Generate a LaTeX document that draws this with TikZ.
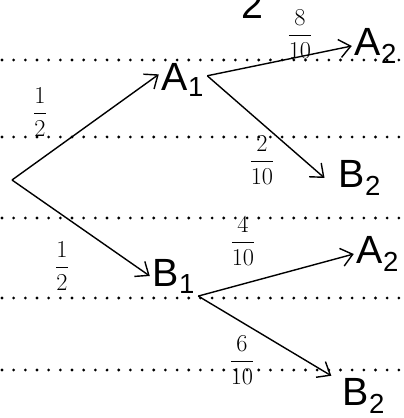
\documentclass[tikz,border=0pt]{standalone}
\usepackage{amsmath}
\usepackage{fontspec}
\setmainfont{Liberation Sans}
\usepackage{tikz}
\usetikzlibrary{arrows.meta}

\begin{document}
\begin{tikzpicture}[
  x=0.025cm, y=-0.025cm,
  state/.style={inner sep=2pt, font=\fontsize{28}{32}\selectfont},
  prob/.style={inner sep=0pt, font=\fontsize{19}{22}\selectfont},
  arrow/.style={-{Straight Barb[length=8pt, width=13pt]}, line width=1pt},
  ruling/.style={line width=2.2pt, line cap=round, dash pattern=on 0pt off 8.3pt},
]
  \useasboundingbox (0,0) rectangle (403,418);
  % ruled paper
  \foreach \y in {60,137,218,298,370}
    \draw[ruling] (2,\y) -- (403,\y);

  \node (top) [state] at (252,5) {2};

  \coordinate (root) at (12,180);
  \node (a1) [state] at (183,80)  {A\textsubscript{1}};
  \node (b1) [state] at (174,276) {B\textsubscript{1}};
  \node (a2) [state] at (376,46)  {A\textsubscript{2}};
  \node (b2) [state] at (360,178) {B\textsubscript{2}};
  \node (a3) [state] at (378,254) {A\textsubscript{2}};
  \node (b3) [state] at (364,396) {B\textsubscript{2}};

  \draw[arrow] (root) -- ([yshift=4pt]a1.west);
  \draw[arrow] (root) -- (b1.west);
  \draw[arrow] ([yshift=3pt]a1.east) -- (a2.west);
  \draw[arrow] ([yshift=3pt]a1.east) -- ([xshift=-8pt]b2.west);
  \draw[arrow] (b1.south east) -- (a3.west);
  \draw[arrow] (b1.south east) -- ([xshift=-6pt]b3.north west);

  \node (p1) [prob] at (40,112)  {$\dfrac{1}{2}$};
  \node (p2) [prob] at (62,266)  {$\dfrac{1}{2}$};
  \node (p3) [prob] at (300,34)  {$\dfrac{8}{10}$};
  \node (p4) [prob] at (262,160) {$\dfrac{2}{10}$};
  \node (p5) [prob] at (243,241) {$\dfrac{4}{10}$};
  \node (p6) [prob] at (242,360) {$\dfrac{6}{10}$};
\end{tikzpicture}
\end{document}
